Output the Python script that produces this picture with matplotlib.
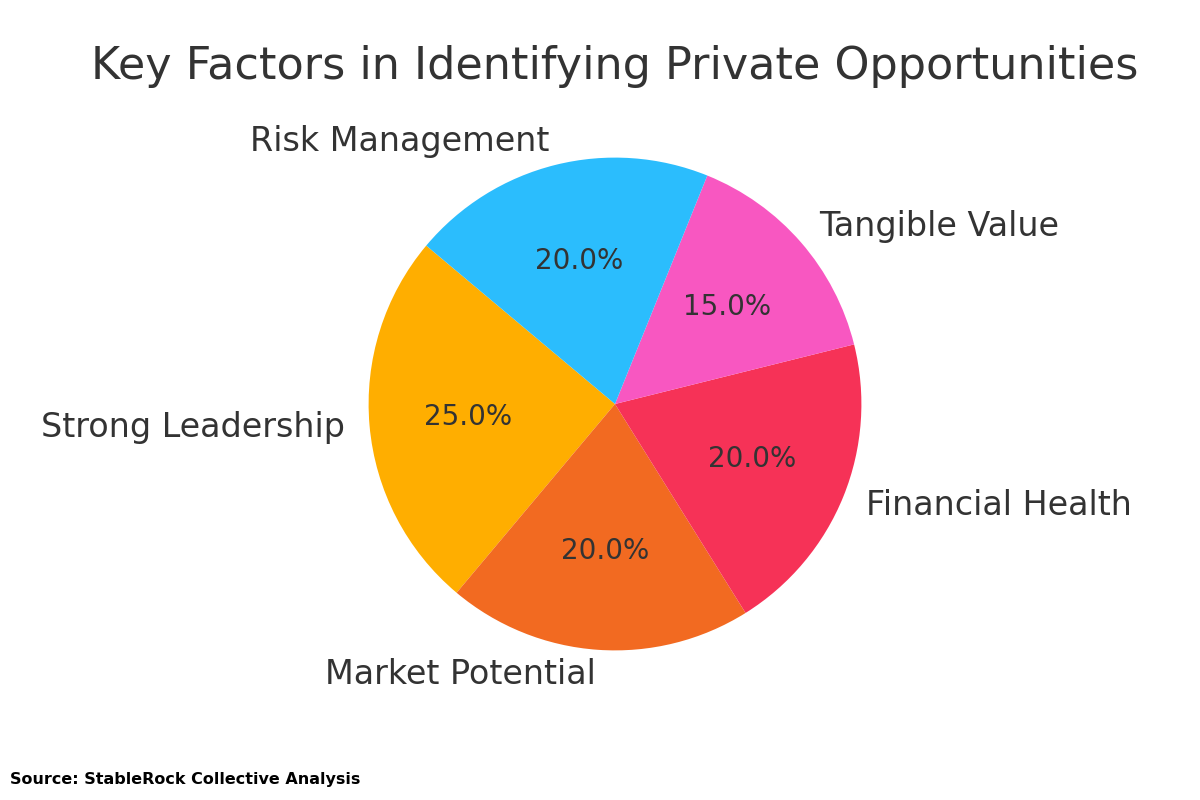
import matplotlib
matplotlib.use("Agg")
import matplotlib.pyplot as plt

# Data
labels = ["Strong Leadership", "Market Potential", "Financial Health",
          "Tangible Value", "Risk Management"]
shares = [25, 20, 20, 15, 20]
colors = ["#FFAE00", "#F26A21", "#F63257", "#F857C1", "#2BBDFD"]

TEXT = "#333333"

fig, ax = plt.subplots(figsize=(12, 8), dpi=100)

wedges, texts, autotexts = ax.pie(
    shares,
    labels=labels,
    colors=colors,
    autopct="%1.1f%%",
    startangle=140,
    textprops={"fontsize": 24, "color": TEXT},
)
for t in autotexts:
    t.set_fontsize(20)
    t.set_color(TEXT)

ax.set_title("Key Factors in Identifying Private Opportunities",
             fontsize=32, color=TEXT, pad=12)

fig.text(0.008, 0.02, "Source: StableRock Collective Analysis",
         fontsize=11.5, fontweight="bold", color="black")

plt.savefig("out.png", dpi=100)
